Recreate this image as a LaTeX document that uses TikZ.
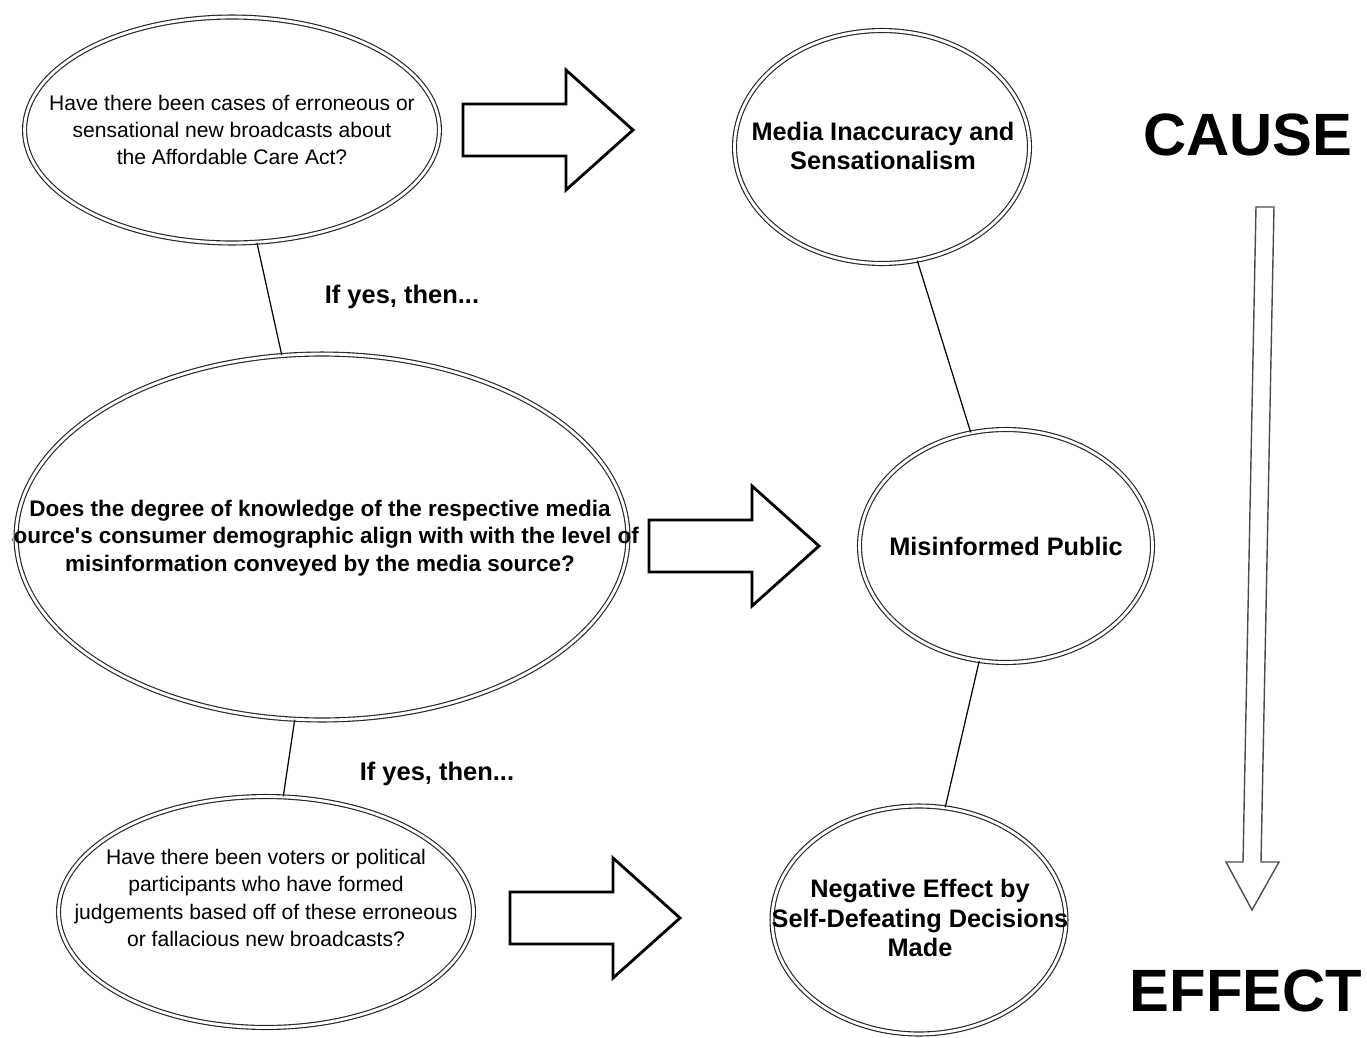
\documentclass[tikz,border=0pt]{standalone}
\usepackage{fontspec}
\setmainfont{Liberation Sans}[Ligatures=TeXOff]
\usetikzlibrary{shapes.geometric}

\tikzset{
  bubble/.style={ellipse, draw=black!85, double, double distance=1.6pt,
    line width=0.65pt, inner sep=0pt},
  question/.style={align=center, font=\fontsize{12}{15.6}\selectfont},
  boldquestion/.style={align=center, font=\bfseries\fontsize{12.8}{15.6}\selectfont},
  outcome/.style={align=center, font=\bfseries\fontsize{14.4}{17}\selectfont},
  ifyes/.style={anchor=base, font=\bfseries\fontsize{14.5}{17}\selectfont},
  bigword/.style={anchor=base, font=\bfseries\fontsize{34}{40}\selectfont},
  link/.style={line width=0.7pt},
  fatarrow/.pic={
    \draw[line width=1.6pt, line join=miter, fill=white]
      (0,-26) -- (103,-26) -- (103,-60) -- (170,0) -- (103,60) -- (103,26) -- (0,26) -- cycle;
  },
}

\begin{document}
\begin{tikzpicture}[x=0.02cm, y=-0.02cm]
    \useasboundingbox (0,0) rectangle (1367,1038);
    \begin{scope}
    \clip (12,0) rectangle (1367,1038);

    % questions on the left
    \node[bubble, minimum width=8.3cm, minimum height=4.52cm] (q1) at (232,130) {};
    \node[bubble, minimum width=12.24cm, minimum height=7.32cm] (q2) at (322,537) {};
    \node[bubble, minimum width=8.3cm, minimum height=4.62cm] (q3) at (266,912) {};
    \node[question] (q1t) at (232,130) {Have there been cases of erroneous or\\sensational new broadcasts about\\the Affordable Care Act?};
    \node[boldquestion] (q2t) at (320,538) {Does the degree of knowledge of the respective media\\source's consumer demographic align with with the level of\\misinformation conveyed by the media source?};
    \node[question] (q3t) at (266,898) {Have there been voters or political\\participants who have formed\\judgements based off of these erroneous\\or fallacious new broadcasts?};

    % outcomes on the right
    \node[bubble, minimum width=5.9cm, minimum height=4.66cm] (r1) at (882,147) {};
    \node[bubble, minimum width=5.86cm, minimum height=4.66cm] (r2) at (1006,546) {};
    \node[bubble, minimum width=5.88cm, minimum height=4.56cm] (r3) at (919,920) {};
    \node[outcome] (r1t) at (883,146) {Media Inaccuracy and\\Sensationalism};
    \node[outcome] (r2t) at (1006,546) {Misinformed Public};
    \node[outcome] (r3t) at (920,918) {Negative Effect by\\Self-Defeating Decisions\\Made};

    \draw[link] (q1) -- (q2);
    \draw[link] (q2) -- (q3);
    \draw[link] (r1) -- (r2);
    \draw[link] (r2) -- (r3);

    \node[ifyes] (yes1) at (402,303) {If yes, then...};
    \node[ifyes] (yes2) at (437,780) {If yes, then...};

    \pic at (463,130) {fatarrow};
    \pic at (649,546) {fatarrow};
    \pic at (510,918) {fatarrow};

    % cause -> effect
    \node[bigword] (cause) at (1248,155) {CAUSE};
    \node[bigword] (effect) at (1246,1011) {EFFECT};
    \draw[line width=0.8pt, black!70, line join=miter]
      (1256,207) -- (1274,207) -- (1261,862) -- (1279,862) -- (1252,910)
      -- (1226,862) -- (1243,862) -- cycle;
    \end{scope}
\end{tikzpicture}
\end{document}
